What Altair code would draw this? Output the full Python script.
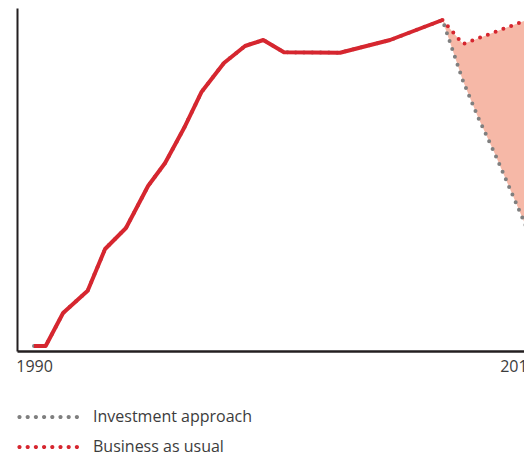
import altair as alt
import pandas as pd

# Historic series (solid red)
hist_years = [1990.0, 1990.6, 1991.5, 1992.77, 1993.67, 1994.75, 1995.89, 1996.77,
              1997.75, 1998.66, 1999.81, 2000.9, 2001.84, 2002.91, 2005.81, 2008.39, 2011.1]
hist_values = [1.46, 1.46, 11.08, 17.58, 29.74, 35.86, 48.10, 54.81,
               65.01, 75.60, 83.97, 88.92, 90.67, 87.08, 86.97, 90.67, 96.50]

# Projections (dotted)
proj_years = [2011.1, 2012.16, 2012.93, 2013.81, 2015.72, 2016.0]
bau_values = [96.5, 89.5, 91.14, 93.0, 97.05, 97.64]
invest_values = [96.5, 78.72, 68.22, 57.43, 32.36, 28.72]

series_names = ["Investment approach", "Business as usual"]
series_colors = ["#7f7f7f", "#d6262f"]
tick_years = [1990, 2015]

hist_df = pd.DataFrame({"year": hist_years, "value": hist_values})

inv_years = hist_years[:-1] + proj_years
inv_vals = hist_values[:-1] + invest_values
dotted_df = pd.concat([
    pd.DataFrame({"year": inv_years, "value": inv_vals, "series": series_names[0]}),
    pd.DataFrame({"year": proj_years, "value": bau_values, "series": series_names[1]}),
], ignore_index=True)

band_df = pd.DataFrame({"year": proj_years, "low": invest_values, "high": bau_values})

# legend-only rows (no position -> nothing drawn in the plot)
legend_df = pd.DataFrame({"series": series_names, "year": [None, None], "value": [None, None]})

# a row of eight dots as a legend symbol (unit coordinates)
def dots_path(n=8, start=-1.1, step=1.64, r=0.42):
    parts = []
    for i in range(n):
        cx = start + i * step
        parts.append(f"M{cx - r:.3f},0A{r},{r} 0 1,0 {cx + r:.3f},0A{r},{r} 0 1,0 {cx - r:.3f},0Z")
    return "".join(parts)

DOTS = dots_path()
FONT = "Open Sans"

xscale = alt.Scale(domain=[1989.12, 2015.31], nice=False, zero=False)
yscale = alt.Scale(domain=[0, 100], nice=False)
cscale = alt.Scale(domain=series_names, range=series_colors)

xenc = alt.X("year:Q", scale=xscale, title=None,
             axis=alt.Axis(values=tick_years, format="d"))
yenc = alt.Y("value:Q", scale=yscale, title=None)

area = alt.Chart(band_df).mark_area(color="#f6b8a7", opacity=1, clip=True).encode(
    x=xenc,
    y=alt.Y("low:Q", scale=yscale, title=None),
    y2="high:Q",
)

dotted = alt.Chart(dotted_df).mark_line(
    strokeDash=[0, 8.3], strokeCap="round", strokeWidth=4, clip=True
).encode(
    x=xenc,
    y=yenc,
    color=alt.Color("series:N", scale=cscale, legend=None),
    order="year:Q",
)

solid = alt.Chart(hist_df).mark_line(
    color="#d6262f", strokeWidth=4, strokeCap="butt", strokeJoin="round", clip=True
).encode(x=xenc, y=yenc)

legend_layer = alt.Chart(legend_df).mark_point(
    shape=DOTS, filled=True, opacity=1, size=100, strokeWidth=0
).encode(
    x=xenc,
    y=yenc,
    color=alt.Color("series:N", scale=cscale,
                    legend=alt.Legend(title=None, orient="none", legendX=0, legendY=401,
                                      direction="vertical", symbolType=DOTS,
                                      symbolSize=100, symbolStrokeWidth=0,
                                      symbolOpacity=1,
                                      labelFont=FONT, labelFontSize=16,
                                      labelColor="#3c3c3c", labelOffset=60,
                                      rowPadding=14)),
)

chart = alt.layer(area, dotted, solid, legend_layer).resolve_legend(
    color="independent"
).properties(
    width=507, height=343,
    autosize="none",
    padding={"left": 9, "top": 0, "right": 0, "bottom": 106},
).configure_view(stroke=None).configure_axisX(
    ticks=False, grid=False, domainColor="#231f20", domainWidth=2.5,
    labelFont=FONT, labelFontSize=16, labelColor="#3c3c3c", labelPadding=7,
    labelFlush=False, labelOverlap=False, labelBound=False,
).configure_axisY(
    ticks=False, grid=False, labels=False, domainColor="#231f20", domainWidth=2,
)

chart.save("out.html", embed_options={"renderer": "svg", "actions": False})
